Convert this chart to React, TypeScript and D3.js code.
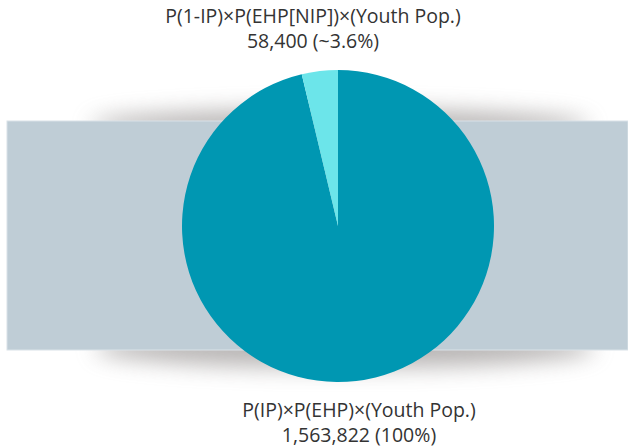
import React, { useEffect, useRef } from "react";
import * as d3 from "d3";

const totalPop = 1563822;
const sliceNames = ["P(IP)×P(EHP)×(Youth Pop.)", "P(1-IP)×P(EHP[NIP])×(Youth Pop.)"];
const sliceValues = [totalPop - 58400, 58400];
const sliceLabels = ["1,563,822 (100%)", "58,400 (~3.6%)"];
const sliceColors = ["#0097b2", "#6ce5ea"];

const App = () => {
  const ref = useRef<SVGSVGElement>(null);

  useEffect(() => {
    const width = 628;
    const height = 448;
    const svg = d3.select(ref.current);
    svg.selectAll("*").remove();

    const defs = svg.append("defs");
    defs
      .append("filter")
      .attr("id", "blur")
      .attr("x", "-20%")
      .attr("y", "-200%")
      .attr("width", "140%")
      .attr("height", "500%")
      .append("feGaussianBlur")
      .attr("stdDeviation", 11);

    const band = { x: 7, y: 121, w: 621, h: 229 };

    // curved shadows behind the band
    svg
      .append("ellipse")
      .attr("cx", 340)
      .attr("cy", band.y + 4)
      .attr("rx", 250)
      .attr("ry", 16)
      .attr("fill", "#8a8584")
      .attr("opacity", 0.6)
      .attr("filter", "url(#blur)");
    svg
      .append("ellipse")
      .attr("cx", 345)
      .attr("cy", band.y + band.h - 2)
      .attr("rx", 250)
      .attr("ry", 20)
      .attr("fill", "#8a8584")
      .attr("opacity", 0.6)
      .attr("filter", "url(#blur)");

    svg
      .append("rect")
      .attr("x", band.x)
      .attr("y", band.y)
      .attr("width", band.w)
      .attr("height", band.h)
      .attr("fill", "#bfcdd6")
      .attr("stroke", "#d9e2e8")
      .attr("stroke-width", 1);

    // pie
    const cx = 338;
    const cy = 226;
    const r = 156;
    const pie = d3.pie<number>().sort(null).value((d) => d);
    const arc = d3.arc<d3.PieArcDatum<number>>().innerRadius(0).outerRadius(r);

    svg
      .append("g")
      .attr("transform", `translate(${cx},${cy})`)
      .selectAll("path")
      .data(pie(sliceValues))
      .join("path")
      .attr("d", arc)
      .attr("fill", (d, i) => sliceColors[i]);

    // labels
    const font = "'Open Sans', sans-serif";
    const label = (x: number, y: number, lines: string[]) => {
      const t = svg
        .append("text")
        .attr("text-anchor", "middle")
        .attr("font-family", font)
        .attr("font-size", 19.5)
        .attr("fill", "#333333");
      lines.forEach((s, i) => {
        t.append("tspan").attr("x", x).attr("y", y + i * 25).text(s);
      });
    };
    label(313, 23, [sliceNames[1], sliceLabels[1]]);
    label(359, 417, [sliceNames[0], sliceLabels[0]]);

    svg.attr("width", width).attr("height", height);
  }, []);

  return (
    <svg
      ref={ref}
      width={628}
      height={448}
      style={{ position: "absolute", left: 0, top: 0, background: "#fff" }}
    ></svg>
  );
};

export default App;
